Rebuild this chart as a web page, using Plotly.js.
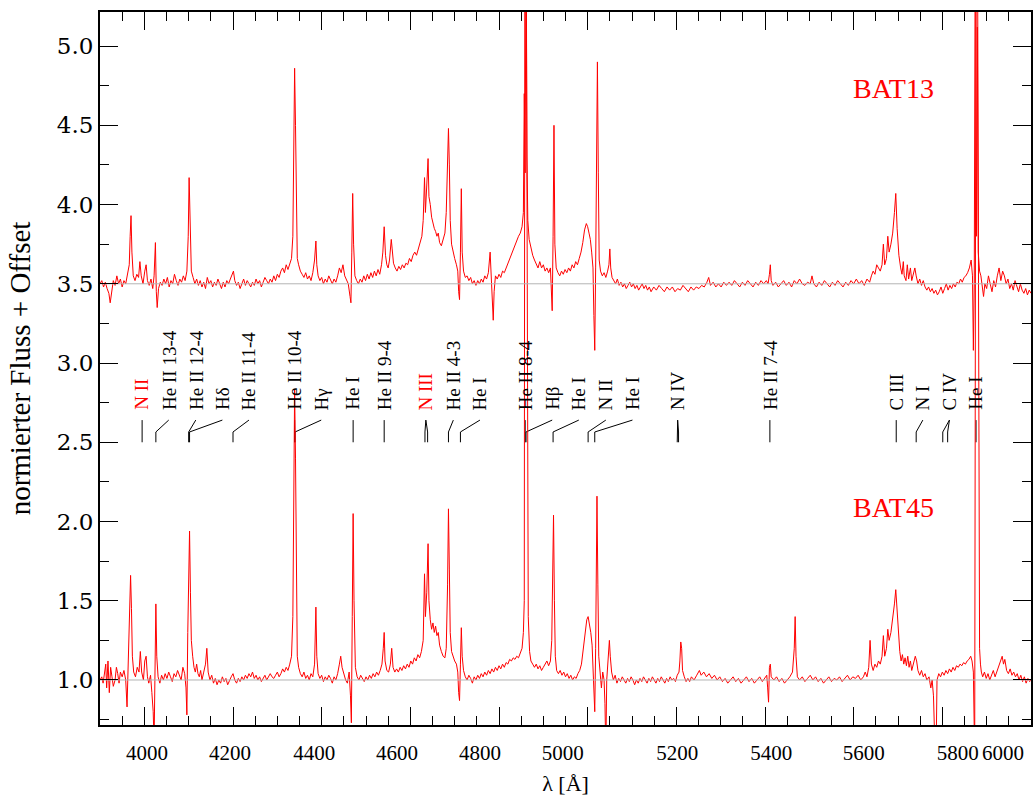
<!DOCTYPE html>
<html><head><meta charset="utf-8">
<script src="https://cdn.plot.ly/plotly-3.0.1.min.js"></script>
<style>html,body{margin:0;padding:0;background:#fff}#chart{width:1035px;height:801px}</style>
</head><body><div id="chart"></div><script>
// ---------- BAT13 spectrum (offset +2.5) ----------
const wl13 = [
3900,3904,3908,3912,3916,3920,3923,3926,3930,3934,
3938,3942,3946,3950,3954,3958,3962,3966,3968,3970,
3972,3975,3979,3983,3987,3990,3993,3997,4001,4004,
4007,4011,4015,4019,4022,4025,4027,4029,4032,4036,
4040,4044,4048,4052,4056,4060,4064,4068,4072,4076,
4080,4084,4088,4092,4096,4099,4101,4103,4106,4110,
4114,4118,4122,4126,4130,4134,4138,4142,4146,4150,
4154,4158,4162,4166,4170,4174,4178,4182,4186,4190,
4194,4198,4201,4204,4208,4212,4216,4220,4224,4228,
4232,4236,4240,4244,4248,4252,4256,4260,4264,4268,
4272,4276,4280,4284,4288,4292,4296,4300,4304,4308,
4312,4316,4320,4324,4328,4332,4335,4337,4339,4341,
4343,4345,4348,4352,4356,4360,4364,4368,4372,4376,
4380,4384,4387,4389,4392,4396,4400,4404,4408,4412,
4416,4420,4424,4428,4432,4436,4440,4444,4448,4452,
4456,4460,4464,4466,4468,4470,4472,4475,4479,4483,
4487,4491,4495,4499,4503,4507,4511,4515,4519,4523,
4527,4531,4535,4538,4541,4544,4547,4550,4553,4557,
4559,4562,4566,4570,4574,4578,4582,4586,4590,4594,
4598,4602,4606,4610,4614,4618,4622,4626,4629,4632,
4634,4637,4640,4642,4645,4648,4651,4654,4657,4660,
4663,4666,4670,4674,4678,4681,4684,4686,4688,4690,
4693,4696,4700,4704,4707,4709,4711,4713,4715,4717,
4720,4724,4728,4732,4736,4740,4744,4748,4752,4756,
4760,4764,4768,4772,4776,4780,4782,4785,4787,4789,
4792,4796,4800,4804,4808,4812,4816,4820,4824,4828,
4832,4836,4840,4844,4848,4852,4855,4857,4859,4861,
4863,4865,4868,4872,4876,4880,4884,4888,4892,4896,
4900,4904,4908,4912,4916,4918,4920,4922,4924,4926,
4929,4933,4937,4941,4945,4949,4953,4957,4961,4965,
4969,4973,4977,4981,4985,4989,4993,4997,5000,5003,
5006,5009,5012,5014,5016,5018,5020,5022,5024,5026,
5029,5033,5037,5041,5045,5048,5050,5052,5055,5059,
5063,5067,5071,5075,5079,5083,5087,5091,5095,5099,
5103,5107,5111,5115,5119,5123,5127,5131,5135,5139,
5143,5149,5155,5161,5167,5173,5179,5185,5191,5197,
5203,5209,5215,5221,5227,5233,5239,5245,5251,5257,
5263,5269,5273,5277,5283,5289,5295,5301,5307,5313,
5319,5325,5331,5337,5343,5349,5355,5361,5367,5373,
5379,5385,5391,5397,5403,5407,5410,5412,5414,5418,
5424,5430,5436,5442,5448,5454,5460,5466,5472,5478,
5484,5490,5496,5502,5506,5510,5516,5522,5528,5534,
5540,5546,5552,5558,5564,5570,5576,5582,5588,5594,
5600,5606,5612,5618,5624,5630,5636,5640,5644,5648,
5652,5656,5660,5664,5667,5670,5674,5677,5680,5684,
5688,5692,5695,5698,5702,5706,5709,5712,5714,5718,
5721,5724,5728,5731,5735,5738,5741,5745,5749,5753,
5757,5761,5765,5769,5773,5777,5781,5785,5789,5793,
5797,5801,5805,5809,5813,5817,5821,5825,5829,5833,
5837,5841,5845,5849,5853,5857,5861,5865,5868,5870,
5872,5875,5877,5879,5881,5884,5887,5890,5893,5896,
5900,5904,5908,5912,5916,5920,5924,5928,5932,5936,
5940,5944,5948,5952,5956,5960,5964,5968,5972,5976,
5980,5984,5988,5992,5996,6000];
const flux13 = [
3.50,3.52,3.48,3.51,3.47,3.44,3.38,3.45,3.52,3.49,
3.55,3.50,3.53,3.48,3.52,3.50,3.55,3.62,3.80,3.93,
3.70,3.55,3.52,3.56,3.54,3.64,3.55,3.50,3.58,3.62,
3.52,3.49,3.53,3.47,3.55,3.76,3.45,3.35,3.47,3.51,
3.49,3.53,3.50,3.54,3.48,3.52,3.50,3.56,3.52,3.49,
3.53,3.51,3.55,3.52,3.58,3.80,4.17,3.85,3.58,3.54,
3.50,3.53,3.49,3.52,3.48,3.51,3.47,3.54,3.50,3.52,
3.48,3.51,3.49,3.53,3.50,3.47,3.51,3.48,3.52,3.50,
3.53,3.56,3.58,3.52,3.49,3.51,3.47,3.50,3.53,3.49,
3.52,3.50,3.48,3.51,3.49,3.53,3.50,3.52,3.48,3.51,
3.54,3.52,3.50,3.53,3.51,3.55,3.52,3.56,3.54,3.58,
3.60,3.57,3.62,3.59,3.63,3.66,3.80,4.30,4.86,4.50,
3.90,3.66,3.62,3.58,3.56,3.54,3.57,3.53,3.55,3.52,
3.57,3.65,3.77,3.62,3.55,3.52,3.54,3.50,3.53,3.51,
3.55,3.52,3.50,3.53,3.51,3.55,3.60,3.57,3.62,3.55,
3.52,3.50,3.42,3.38,3.70,4.07,3.75,3.55,3.52,3.50,
3.53,3.51,3.55,3.52,3.56,3.53,3.57,3.54,3.58,3.55,
3.59,3.56,3.62,3.70,3.86,3.68,3.62,3.60,3.65,3.78,
3.72,3.63,3.60,3.58,3.61,3.59,3.62,3.60,3.63,3.62,
3.66,3.64,3.68,3.70,3.68,3.72,3.75,3.80,3.90,4.17,
3.95,4.10,4.29,4.05,4.00,3.92,3.88,3.85,3.83,3.80,
3.82,3.76,3.74,3.78,3.82,3.95,4.30,4.48,4.25,3.90,
3.75,3.70,3.66,3.62,3.58,3.45,3.40,3.70,4.10,3.70,
3.58,3.54,3.55,3.52,3.54,3.50,3.52,3.49,3.52,3.50,
3.53,3.51,3.55,3.53,3.57,3.70,3.55,3.40,3.27,3.45,
3.55,3.53,3.56,3.54,3.58,3.57,3.60,3.62,3.65,3.68,
3.72,3.75,3.78,3.80,3.82,3.86,3.95,4.70,4.20,5.80,
4.30,3.90,3.78,3.72,3.68,3.65,3.62,3.60,3.64,3.60,
3.62,3.58,3.60,3.57,3.60,3.45,3.33,3.80,4.50,3.75,
3.60,3.57,3.55,3.58,3.56,3.59,3.57,3.60,3.58,3.62,
3.60,3.64,3.62,3.66,3.70,3.76,3.84,3.88,3.86,3.82,
3.78,3.70,3.60,3.30,3.08,3.60,4.50,4.90,4.20,3.65,
3.58,3.55,3.57,3.54,3.58,3.62,3.72,3.60,3.54,3.52,
3.50,3.53,3.49,3.51,3.48,3.50,3.47,3.49,3.51,3.48,
3.50,3.47,3.49,3.46,3.48,3.50,3.47,3.49,3.46,3.48,
3.45,3.48,3.46,3.49,3.47,3.45,3.48,3.46,3.48,3.45,
3.47,3.46,3.49,3.47,3.45,3.48,3.46,3.48,3.47,3.49,
3.48,3.51,3.54,3.49,3.51,3.48,3.50,3.48,3.51,3.49,
3.51,3.49,3.52,3.50,3.48,3.51,3.49,3.52,3.50,3.48,
3.51,3.49,3.52,3.50,3.52,3.50,3.56,3.62,3.52,3.49,
3.51,3.48,3.50,3.52,3.49,3.51,3.48,3.52,3.50,3.53,
3.50,3.49,3.51,3.50,3.55,3.50,3.48,3.51,3.49,3.52,
3.50,3.48,3.51,3.49,3.52,3.50,3.48,3.51,3.49,3.52,
3.50,3.53,3.50,3.52,3.49,3.53,3.51,3.55,3.58,3.56,
3.62,3.60,3.58,3.62,3.75,3.62,3.66,3.80,3.70,3.75,
3.82,3.95,4.07,3.85,3.68,3.60,3.56,3.64,3.55,3.52,
3.62,3.53,3.60,3.52,3.56,3.60,3.55,3.50,3.53,3.49,
3.52,3.48,3.46,3.48,3.45,3.47,3.44,3.46,3.43,3.45,
3.48,3.44,3.47,3.50,3.46,3.49,3.47,3.50,3.48,3.51,
3.50,3.53,3.51,3.54,3.55,3.57,3.60,3.65,3.55,3.08,
3.50,6.50,3.80,5.12,3.70,3.58,3.55,3.48,3.42,3.50,
3.47,3.55,3.50,3.45,3.52,3.48,3.55,3.60,3.52,3.58,
3.55,3.50,3.53,3.47,3.50,3.46,3.52,3.48,3.45,3.50,
3.46,3.44,3.47,3.43,3.46,3.44];

// ---------- BAT45 spectrum (no offset) ----------
const wl45 = [
3900,3904,3907,3910,3913,3915,3918,3921,3924,3927,
3930,3934,3937,3940,3943,3946,3950,3954,3958,3961,
3963,3965,3967,3969,3971,3973,3976,3980,3984,3988,
3991,3994,3998,4001,4004,4007,4010,4014,4017,4020,
4022,4024,4026,4028,4031,4035,4039,4043,4047,4051,
4055,4059,4063,4067,4071,4075,4079,4083,4087,4091,
4094,4096,4098,4100,4102,4104,4106,4109,4112,4115,
4118,4121,4124,4127,4130,4134,4138,4141,4144,4148,
4152,4156,4160,4164,4168,4172,4176,4180,4184,4188,
4192,4196,4200,4204,4208,4212,4216,4220,4224,4228,
4232,4236,4240,4244,4248,4252,4256,4260,4264,4268,
4272,4276,4280,4284,4288,4292,4296,4300,4304,4308,
4312,4316,4320,4324,4328,4332,4335,4337,4339,4341,
4343,4345,4348,4352,4356,4360,4364,4368,4372,4376,
4380,4384,4387,4389,4392,4396,4400,4404,4408,4412,
4416,4420,4424,4428,4432,4436,4440,4443,4446,4450,
4454,4458,4462,4465,4467,4469,4471,4473,4476,4480,
4484,4488,4492,4496,4500,4504,4508,4512,4516,4520,
4524,4528,4532,4536,4539,4541,4543,4547,4551,4555,
4558,4561,4565,4569,4573,4577,4581,4585,4589,4593,
4597,4601,4605,4609,4613,4617,4621,4625,4629,4632,
4634,4637,4640,4642,4645,4648,4651,4654,4657,4660,
4663,4666,4670,4674,4678,4681,4684,4686,4688,4690,
4693,4696,4700,4704,4707,4709,4711,4713,4715,4717,
4720,4724,4728,4732,4736,4740,4744,4748,4752,4756,
4760,4764,4768,4772,4776,4780,4784,4788,4792,4796,
4800,4804,4808,4812,4816,4820,4824,4828,4832,4836,
4840,4844,4848,4852,4855,4857,4859,4866,4869,4872,
4876,4880,4884,4888,4892,4896,4900,4904,4908,4912,
4916,4919,4921,4923,4925,4927,4930,4934,4938,4942,
4946,4950,4954,4958,4962,4966,4970,4974,4978,4982,
4986,4990,4994,4998,5001,5004,5007,5010,5013,5016,
5018,5021,5023,5025,5028,5031,5034,5037,5039,5041,
5043,5046,5049,5051,5054,5058,5062,5066,5070,5074,
5078,5082,5086,5090,5094,5098,5102,5106,5110,5114,
5118,5122,5126,5130,5134,5138,5142,5146,5150,5154,
5158,5162,5166,5170,5174,5178,5182,5186,5190,5194,
5198,5202,5206,5208,5210,5212,5214,5218,5222,5226,
5230,5234,5240,5246,5252,5256,5262,5268,5274,5280,
5286,5292,5298,5304,5310,5316,5322,5328,5334,5340,
5346,5352,5358,5364,5370,5376,5382,5388,5394,5400,
5404,5406,5408,5410,5412,5414,5420,5426,5432,5438,
5444,5450,5456,5462,5466,5468,5470,5473,5478,5484,
5490,5496,5502,5508,5514,5520,5526,5532,5538,5544,
5550,5556,5562,5568,5574,5580,5586,5592,5598,5604,
5610,5616,5622,5626,5630,5634,5637,5640,5644,5648,
5652,5656,5660,5664,5667,5670,5674,5677,5680,5684,
5688,5692,5695,5698,5701,5704,5707,5710,5713,5716,
5719,5722,5725,5728,5731,5735,5739,5742,5745,5749,
5753,5757,5761,5765,5770,5774,5777,5780,5783,5786,
5788,5792,5796,5800,5804,5808,5812,5816,5820,5824,
5828,5832,5836,5840,5844,5848,5852,5856,5860,5864,
5867,5870,5873,5877,5884,5886,5888,5891,5895,5899,
5903,5907,5911,5915,5919,5923,5927,5931,5935,5938,
5941,5945,5949,5953,5957,5961,5965,5969,5973,5977,
5981,5985,5989,5993,5997,6000];
const flux45 = [
1.00,1.02,0.98,1.05,1.10,0.95,1.12,0.92,1.08,1.02,
0.96,1.00,1.08,1.04,0.98,1.05,1.02,1.06,1.00,0.83,
1.05,1.15,1.35,1.66,1.45,1.15,1.05,1.02,1.08,1.05,
1.18,1.05,1.00,1.12,1.15,1.02,0.98,1.03,0.92,0.80,
0.60,1.00,1.48,1.15,1.02,0.98,1.03,1.00,1.04,1.01,
1.05,1.02,0.99,1.04,1.02,1.06,1.03,1.00,1.08,1.04,
0.95,0.78,1.30,1.75,1.94,1.55,1.25,1.15,1.08,1.05,
1.10,1.04,1.02,1.06,1.00,1.05,1.10,1.20,1.05,1.00,
1.03,0.98,1.01,0.97,1.00,0.98,1.02,0.99,1.01,0.97,
1.00,1.02,1.04,1.00,0.98,1.01,0.99,1.02,1.00,1.03,
1.01,1.04,1.02,1.05,1.01,1.03,1.00,1.02,0.99,1.01,
1.03,1.00,1.02,1.04,1.02,1.01,1.03,1.05,1.02,1.04,
1.07,1.05,1.08,1.06,1.10,1.15,1.40,2.20,2.83,2.40,
1.50,1.15,1.08,1.04,1.02,1.05,1.01,1.03,1.00,1.04,
1.02,1.10,1.46,1.15,1.04,1.01,1.03,0.99,1.02,1.00,
1.03,1.01,0.98,1.02,1.00,1.04,1.10,1.15,1.08,1.03,
1.00,0.98,1.05,0.90,0.73,1.40,2.05,1.50,1.08,1.02,
1.00,1.03,1.01,0.99,1.02,1.00,1.03,1.01,1.04,1.02,
1.05,1.03,1.06,1.10,1.20,1.30,1.12,1.06,1.05,1.10,
1.20,1.08,1.05,1.07,1.05,1.08,1.06,1.09,1.07,1.10,
1.08,1.12,1.10,1.14,1.12,1.16,1.14,1.18,1.25,1.67,
1.40,1.55,1.86,1.50,1.38,1.32,1.36,1.30,1.34,1.28,
1.30,1.22,1.18,1.15,1.14,1.20,1.60,2.08,1.70,1.30,
1.18,1.15,1.12,1.10,1.05,0.92,0.87,1.10,1.33,1.15,
1.06,1.02,1.00,1.03,1.01,0.98,1.02,1.00,1.03,1.01,
1.04,1.02,1.05,1.03,1.06,1.04,1.07,1.05,1.08,1.06,
1.09,1.07,1.10,1.08,1.11,1.10,1.13,1.12,1.14,1.13,
1.15,1.14,1.17,1.20,1.30,1.50,8.00,1.40,1.18,1.12,
1.10,1.08,1.10,1.07,1.09,1.06,1.08,1.10,1.12,1.09,
1.12,1.25,1.70,2.04,1.50,1.15,1.06,1.04,1.06,1.03,
1.05,1.02,1.04,1.01,1.03,1.00,1.02,1.01,1.04,1.06,
1.10,1.20,1.32,1.38,1.40,1.36,1.30,1.22,1.05,0.80,
1.20,2.16,1.60,1.15,1.05,0.95,1.05,1.00,0.85,0.55,
1.00,1.10,1.25,1.15,1.05,1.00,1.03,0.98,1.01,0.99,
1.02,1.00,0.98,1.01,0.99,1.02,1.00,0.97,1.00,0.98,
1.01,0.99,1.02,1.00,0.98,1.01,0.99,1.02,1.00,0.98,
1.01,0.99,1.02,1.00,0.98,1.01,0.99,1.02,1.00,1.01,
0.99,1.03,1.05,1.12,1.24,1.20,1.06,1.02,0.99,1.01,
0.99,1.02,1.00,1.03,1.06,1.03,1.05,1.02,1.04,1.01,
1.03,1.00,1.02,0.99,1.01,0.98,1.00,1.02,0.99,1.01,
0.98,1.00,1.02,0.99,1.01,0.98,1.00,1.02,0.99,1.01,
1.03,0.95,0.86,1.08,1.10,1.02,1.00,1.02,0.99,1.01,
0.98,1.00,1.02,1.05,1.20,1.40,1.15,1.02,1.00,1.02,
0.99,1.01,1.03,1.00,1.02,0.99,1.01,0.98,1.00,1.02,
0.99,1.01,1.00,1.02,0.99,1.01,1.03,1.00,1.02,1.01,
1.03,1.00,1.02,1.05,1.02,1.08,1.25,1.10,1.06,1.10,
1.08,1.12,1.10,1.15,1.28,1.15,1.20,1.32,1.25,1.30,
1.38,1.48,1.57,1.42,1.25,1.18,1.12,1.16,1.10,1.14,
1.09,1.15,1.08,1.12,1.06,1.10,1.15,1.12,1.06,1.03,
1.06,1.02,1.04,1.00,1.02,0.95,1.00,0.90,0.60,0.55,
1.00,1.04,1.02,1.05,1.03,1.06,1.04,1.07,1.05,1.08,
1.06,1.09,1.08,1.10,1.09,1.11,1.10,1.12,1.13,1.15,
1.12,1.05,0.50,8.00,1.20,1.10,1.05,1.02,1.05,1.01,
1.04,1.00,1.03,1.06,1.02,1.05,1.08,1.12,1.15,1.10,
1.13,1.06,1.04,1.07,1.03,1.05,1.02,1.04,1.00,1.03,
0.99,1.02,0.98,1.01,0.99,1.00];

// ---------- continuum levels ----------
const continuumLevels = [1.0, 3.5];

// ---------- line identifications ----------
const idText = ["N II","He II 13-4","He II 12-4","H\u03b4","He II 11-4","He II 10-4","H\u03b3","He I","He II 9-4","N III",
  "He II 4-3","He I","He II 8-4","H\u03b2","He I","N II","He I","N IV","He II 7-4","C III","N I","C IV","He I"];
const idLabelPos = [3995,4055,4116,4176,4236,4339,4399,4471,4541,4635,
  4697,4757,4859,4920,4980,5041,5101,5203,5411,5696,5756,5816,5876];
const idLinePos = [[3995],[4026],[4100],[4102],[4200],[4339],[4340],[4471],[4541],[4633,4639],
  [4686],[4713],[4859],[4861],[4922],[5001],[5016],[5202,5205],[5411],[5696],[5741],[5801,5812],[5876]];
const idColor = ["#ff0000","#000","#000","#000","#000","#000","#000","#000","#000","#ff0000",
  "#000","#000","#000","#000","#000","#000","#000","#000","#000","#000","#000","#000","#000"];

// ---------- star names ----------
const starNames = ["BAT13","BAT45"];
const starNameX = [5689, 5689];
const starNameY = [4.735, 2.09];

// ---------- x tick labels (as placed in the original figure) ----------
const xLabelPos = [4006,4193,4383,4570,4757,4944,5202,5414,5623,5835,5937];
const xLabelText = ["4000","4200","4400","4600","4800","5000","5200","5400","5600","5800","6000"];

// geometry of identification markers
const yTop = 2.64, yKnee = 2.565, yBot = 2.50, yText = 2.69;
const segX = [], segY = [];
idLabelPos.forEach((lp, i) => {
  idLinePos[i].forEach(lx => {
    segX.push(lp, lx, lx, null);
    segY.push(yTop, yKnee, yBot, null);
  });
});

const serif = "Liberation Serif, Times New Roman, serif";
const traces = continuumLevels.map(v => ({
  x: [3900, 6000], y: [v, v], xaxis: "x2", yaxis: "y", mode: "lines",
  line: {color: "#b4b4b4", width: 1}, hoverinfo: "skip"
}));
traces.push(
  {x: segX, y: segY, mode: "lines", line: {color: "#000", width: 1}, hoverinfo: "skip", connectgaps: false},
  {x: wl13, y: flux13, mode: "lines", line: {color: "#ff0000", width: 1}, hoverinfo: "skip"},
  {x: wl45, y: flux45, mode: "lines", line: {color: "#ff0000", width: 1}, hoverinfo: "skip"}
);

const annotations = idText.map((t, i) => ({
  x: idLabelPos[i], y: yText, xref: "x", yref: "y", text: t, showarrow: false,
  textangle: -90, xanchor: "center", yanchor: "bottom",
  font: {family: serif, size: 19, color: idColor[i]}
}));
starNames.forEach((n, i) => annotations.push({
  x: starNameX[i], y: starNameY[i], xref: "x", yref: "y", text: n, showarrow: false,
  xanchor: "center", yanchor: "middle", font: {family: serif, size: 28, color: "#ff0000"}
}));

const layout = {
  width: 1035, height: 801,
  margin: {l: 100, r: 4, t: 12, b: 76},
  paper_bgcolor: "#fff", plot_bgcolor: "#fff",
  showlegend: false,
  font: {family: serif, color: "#000"},
  xaxis: {
    range: [3900, 6000], tickmode: "linear", tick0: 4000, dtick: 200, showticklabels: false,
    ticks: "inside", ticklen: 18, tickwidth: 1, tickcolor: "#000",
    minor: {tickmode: "linear", tick0: 4000, dtick: 50, ticks: "inside", ticklen: 9, tickwidth: 1, tickcolor: "#000"},
    showline: true, linewidth: 2, linecolor: "#000", mirror: "ticks",
    showgrid: false, zeroline: false
  },
  xaxis2: {
    overlaying: "x", anchor: "y", side: "bottom", range: [3900, 6000],
    tickmode: "array", tickvals: xLabelPos, ticktext: xLabelText, ticks: "",
    ticklabelstandoff: 13,
    showline: false, showgrid: false, zeroline: false,
    tickfont: {family: serif, size: 21, color: "#000"},
    title: {text: "\u03bb [\u00c5]", font: {family: serif, size: 22, color: "#000"}, standoff: 11}
  },
  yaxis: {
    range: [0.716, 5.215], tickmode: "linear", tick0: 0, dtick: 0.5, tickformat: ".1f",
    ticks: "inside", ticklen: 18, tickwidth: 1, tickcolor: "#000",
    minor: {tickmode: "linear", tick0: 0, dtick: 0.25, ticks: "inside", ticklen: 9, tickwidth: 1, tickcolor: "#000"},
    showline: true, linewidth: 2, linecolor: "#000", mirror: "ticks",
    showgrid: false, zeroline: false,
    tickfont: {family: "DejaVu Serif, serif", size: 23, color: "#000"},
    title: {text: "normierter Fluss + Offset", font: {family: serif, size: 29, color: "#000"}, standoff: 18}
  },
  annotations: annotations
};

Plotly.newPlot("chart", traces, layout, {displayModeBar: false, staticPlot: true});
</script></body></html>
